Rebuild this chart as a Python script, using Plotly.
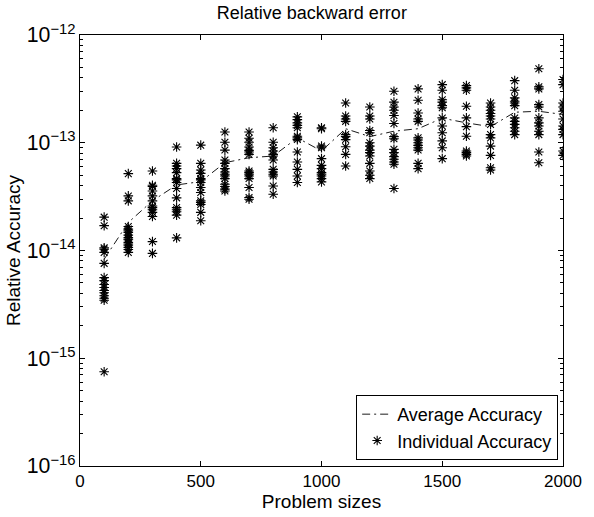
import plotly.graph_objects as go

# Problem sizes
sizes = [100, 200, 300, 400, 500, 600, 700, 800, 900, 1000,
         1100, 1200, 1300, 1400, 1500, 1600, 1700, 1800, 1900, 2000]

# Average accuracy (dash-dot line)
avg_acc = [8.3e-15, 1.82e-14, 2.89e-14, 4.06e-14, 4.36e-14, 6.53e-14, 7.26e-14, 7.53e-14,
           1.11e-13, 8.38e-14, 1.35e-13, 1.14e-13, 1.28e-13, 1.35e-13, 1.69e-13, 1.53e-13,
           1.41e-13, 1.92e-13, 1.96e-13, 1.83e-13]

# Individual accuracies per problem size
acc_100 = [2.04e-14, 1.7e-14, 1.06e-14, 1.03e-14, 9.6e-15, 7.6e-15, 5.6e-15, 5.25e-15,
           4.83e-15, 4.53e-15, 4.26e-15, 4.05e-15, 3.8e-15, 3.6e-15, 3.45e-15, 7.5e-16]
acc_200 = [5.17e-14, 3.21e-14, 2.89e-14, 1.67e-14, 1.58e-14, 1.52e-14, 1.47e-14, 1.39e-14,
           1.32e-14, 1.28e-14, 1.26e-14, 1.19e-14, 1.15e-14, 1.12e-14, 1.07e-14, 1.02e-14, 9.6e-15]
acc_300 = [5.47e-14, 4.03e-14, 3.92e-14, 3.57e-14, 3.21e-14, 2.89e-14, 2.59e-14, 2.5e-14,
           2.39e-14, 2.26e-14, 2.07e-14, 1.21e-14, 9.4e-15]
acc_400 = [9.12e-14, 6.44e-14, 6.08e-14, 5.75e-14, 5.28e-14, 4.65e-14, 4.52e-14, 4.27e-14,
           3.76e-14, 3.08e-14, 2.5e-14, 2.39e-14, 2.29e-14, 2.13e-14, 1.31e-14]
acc_500 = [9.5e-14, 6.44e-14, 5.59e-14, 5.2e-14, 4.65e-14, 4.52e-14, 4.27e-14, 3.84e-14,
           3.45e-14, 2.89e-14, 2.79e-14, 2.67e-14, 2.26e-14, 1.89e-14]
acc_600 = [1.26e-13, 1.01e-13, 8.55e-14, 6.92e-14, 6.44e-14, 5.75e-14, 5.36e-14, 5.1e-14,
           4.92e-14, 4.65e-14, 4.12e-14, 3.92e-14, 3.71e-14, 3.57e-14]
acc_700 = [1.26e-13, 1.1e-13, 1.01e-13, 9.12e-14, 8.49e-14, 8.2e-14, 7.8e-14, 5.47e-14,
           5.28e-14, 5.1e-14, 4.92e-14, 4.65e-14, 3.84e-14, 3.1e-14, 2.99e-14]
acc_800 = [1.38e-13, 1.01e-13, 8.99e-14, 8.38e-14, 7.8e-14, 7.53e-14, 6.92e-14, 5.66e-14,
           5.36e-14, 5.1e-14, 4.92e-14, 3.97e-14, 3.33e-14]
acc_900 = [1.74e-13, 1.64e-13, 1.53e-13, 1.45e-13, 1.38e-13, 1.15e-13, 1.11e-13, 1.07e-13,
           8.2e-14, 6.63e-14, 5.66e-14, 4.92e-14, 4.27e-14]
acc_1000 = [1.38e-13, 1.35e-13, 9.31e-14, 8.99e-14, 7.12e-14, 6.17e-14, 5.75e-14, 5.28e-14,
            5.1e-14, 4.92e-14, 4.65e-14, 4.33e-14]
acc_1100 = [2.34e-13, 1.77e-13, 1.66e-13, 1.58e-13, 1.19e-13, 1.14e-13, 1.07e-13, 9.18e-14,
            7.8e-14, 6.08e-14]
acc_1200 = [2.15e-13, 1.77e-13, 1.66e-13, 1.3e-13, 1.24e-13, 1.0e-13, 9.31e-14, 8.55e-14,
            8.09e-14, 7.53e-14, 6.44e-14, 5.47e-14, 4.99e-14, 4.65e-14]
acc_1300 = [3.01e-13, 2.38e-13, 2.15e-13, 2.0e-13, 1.79e-13, 1.51e-13, 1.14e-13, 1.09e-13,
            8.68e-14, 8.09e-14, 7.43e-14, 7.02e-14, 6.63e-14, 6.31e-14, 3.76e-14]
acc_1400 = [3.16e-13, 2.48e-13, 1.89e-13, 1.66e-13, 1.58e-13, 1.11e-13, 1.06e-13, 1.0e-13,
            9.45e-14, 8.99e-14, 8.55e-14, 6.44e-14, 5.75e-14]
acc_1500 = [3.46e-13, 3.07e-13, 2.51e-13, 2.38e-13, 2.21e-13, 2.11e-13, 1.7e-13, 1.43e-13,
            1.24e-13, 1.04e-13, 8.99e-14, 7.12e-14]
acc_1600 = [3.39e-13, 3.23e-13, 3.07e-13, 2.18e-13, 1.7e-13, 1.41e-13, 1.15e-13, 8.38e-14,
            8.09e-14, 7.8e-14, 7.53e-14]
acc_1700 = [2.34e-13, 2.15e-13, 2.0e-13, 1.87e-13, 1.77e-13, 1.66e-13, 1.48e-13, 1.19e-13,
            1.11e-13, 9.31e-14, 7.63e-14, 5.87e-14, 5.59e-14]
acc_1800 = [3.77e-13, 3.07e-13, 2.61e-13, 2.43e-13, 2.34e-13, 2.21e-13, 1.7e-13, 1.58e-13,
            1.48e-13, 1.38e-13, 1.28e-13, 1.19e-13]
acc_1900 = [4.86e-13, 3.3e-13, 3.16e-13, 2.26e-13, 2.15e-13, 1.7e-13, 1.53e-13, 1.43e-13,
            1.28e-13, 1.19e-13, 8.2e-14, 6.53e-14]
acc_2000 = [3.86e-13, 3.46e-13, 2.34e-13, 2.15e-13, 1.96e-13, 1.66e-13, 1.43e-13, 1.33e-13,
            1.19e-13, 8.38e-14, 7.63e-14]

x_ticks = [0, 500, 1000, 1500, 2000]

individual = [acc_100, acc_200, acc_300, acc_400, acc_500, acc_600, acc_700, acc_800,
              acc_900, acc_1000, acc_1100, acc_1200, acc_1300, acc_1400, acc_1500,
              acc_1600, acc_1700, acc_1800, acc_1900, acc_2000]

ind_x, ind_y = [], []
for s, vals in zip(sizes, individual):
    ind_x.extend([s] * len(vals))
    ind_y.extend(vals)

FONT = "Liberation Sans, Arial, Helvetica, sans-serif"

fig = go.Figure()
fig.add_trace(go.Scatter(
    x=sizes, y=avg_acc, mode="lines", name="Average Accuracy",
    line=dict(color="black", width=0.9, dash="8px,4px,2px,4px"),
))
fig.add_trace(go.Scatter(
    x=ind_x, y=ind_y, mode="markers", name="Individual Accuracy",
    marker=dict(symbol="asterisk-open", size=8, color="black",
                line=dict(color="black", width=1.1)),
))

fig.update_layout(
    width=594, height=517,
    margin=dict(l=80, r=22, t=35, b=50),
    paper_bgcolor="white", plot_bgcolor="white",
    font=dict(family=FONT, size=17, color="black"),
    title=dict(text="Relative backward error", x=0.48, xref="paper", xanchor="center",
               y=1, yref="container", yanchor="top", pad=dict(t=6),
               font=dict(family=FONT, size=18, color="black")),
    legend=dict(x=0.99, y=0.014, xanchor="right", yanchor="bottom",
                bgcolor="white", bordercolor="black", borderwidth=1,
                font=dict(family=FONT, size=18, color="black"),
                tracegroupgap=0, itemwidth=30),
    showlegend=True,
)

fig.update_xaxes(
    range=[0, 2000], tickvals=x_ticks, ticktext=[str(v) for v in x_ticks],
    showline=True, linecolor="black", linewidth=1, mirror="allticks",
    ticks="inside", ticklen=5, tickcolor="black", showgrid=False, zeroline=False,
    title=dict(text="Problem sizes", standoff=0, font=dict(size=19)),
    tickfont=dict(size=17),
)
fig.update_yaxes(
    type="log", range=[-16, -12], dtick=1, exponentformat="power",
    showline=True, linecolor="black", linewidth=1, mirror="allticks",
    ticks="inside", ticklen=5, tickcolor="black", showgrid=False, zeroline=False,
    minor=dict(ticks="inside", ticklen=3, tickcolor="black", showgrid=False),
    title=dict(text="Relative Accuracy", standoff=1, font=dict(size=19)),
    tickfont=dict(size=17),
)

fig.write_html("out.html")
